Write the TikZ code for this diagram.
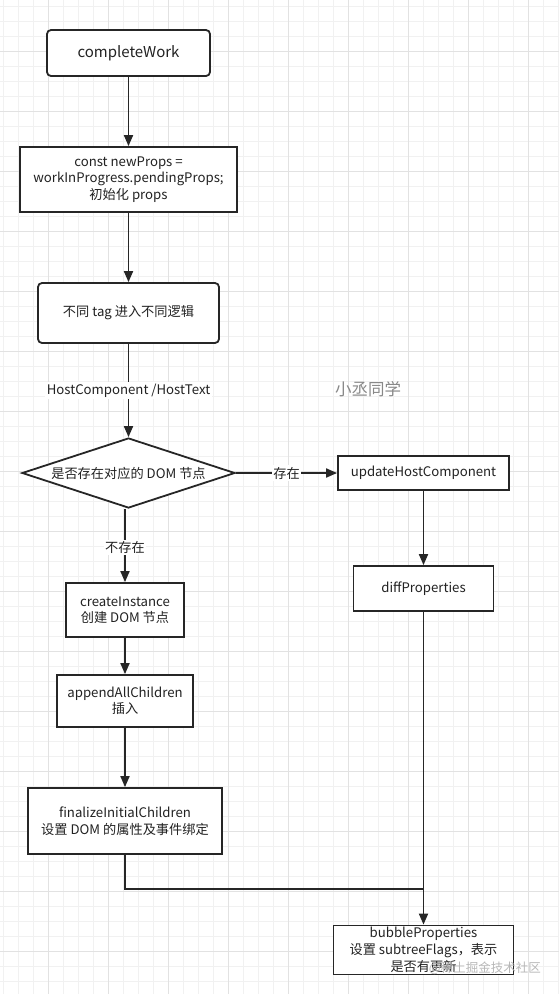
\documentclass[tikz,border=0pt]{standalone}
\usepackage{fontspec}
\setmainfont{Noto Sans CJK SC}
\usetikzlibrary{arrows.meta,shapes.geometric}
\definecolor{ink}{HTML}{262626}
\definecolor{txt}{HTML}{222222}
\definecolor{gridminor}{HTML}{F1F1F1}
\definecolor{gridmajor}{HTML}{E2E2E2}
\definecolor{wm}{HTML}{888888}
\tikzset{
  flowbox/.style={draw=ink, line width=1.8pt, fill=white, align=center, inner sep=0pt,
    text=txt, font=\fontsize{13.2}{16.5}\selectfont},
  roundbox/.style={flowbox, rounded corners=4pt},
  arr/.style={draw=ink, line width=1.8pt, -{Triangle[length=11pt,width=9pt]}},
  plainline/.style={draw=ink, line width=1.8pt},
  edgelabel/.style={fill=white, text=txt, inner sep=1.5pt, font=\fontsize{13.2}{15}\selectfont},
}
\begin{document}
\begin{tikzpicture}[x=1pt,y=-1pt]
\useasboundingbox (0,0) rectangle (559,994);
\fill[white] (0,0) rectangle (559,994);
% grid
\foreach \gx in {3.3,18.3,...,559} {\draw[gridminor, line width=0.8pt] (\gx,0) -- (\gx,994);}
\foreach \gy in {6.7,21.7,...,994} {\draw[gridminor, line width=0.8pt] (0,\gy) -- (559,\gy);}
\foreach \gx in {48.3,108.3,...,559} {\draw[gridmajor, line width=0.9pt] (\gx,0) -- (\gx,994);}
\foreach \gy in {51.7,111.7,...,994} {\draw[gridmajor, line width=0.9pt] (0,\gy) -- (559,\gy);}

% nodes
\node[roundbox, minimum width=163pt, minimum height=46pt, font=\fontsize{15}{18}\selectfont] (cw) at (128.5,53) {completeWork};
\node[flowbox, minimum width=217pt, minimum height=65pt] (np) at (128.5,179.5) {const newProps =\\workInProgress.pendingProps;\\初始化 props};
\node[roundbox, minimum width=181pt, minimum height=60pt] (tag) at (128.5,313) {不同 tag 进入不同逻辑};
\node[flowbox, diamond, aspect=3, minimum width=213pt, minimum height=70pt] (dia) at (128.5,473) {是否存在对应的 DOM 节点};
\node[flowbox, minimum width=171pt, minimum height=34pt] (uhc) at (423.5,473) {updateHostComponent};
\node[flowbox, minimum width=140pt, minimum height=45pt] (dp) at (423.5,588.5) {diffProperties};
\node[flowbox, minimum width=118pt, minimum height=54pt] (ci) at (125,610) {createInstance\\创建 DOM 节点};
\node[flowbox, minimum width=136pt, minimum height=52pt] (aac) at (125,701) {appendAllChildren\\插入};
\node[flowbox, minimum width=194pt, minimum height=66pt] (fic) at (125,821) {finalizeInitialChildren\\设置 DOM 的属性及事件绑定};
\node[flowbox, minimum width=180pt, minimum height=49pt, font=\fontsize{13.2}{17}\selectfont] (bp) at (423.5,950) {bubbleProperties\\设置 subtreeFlags，表示\\是否有更新};

\node[text=wm, font=\fontsize{16.5}{18}\selectfont, inner sep=0pt] (author) at (368,389) {小丞同学};

% connectors
\draw[arr] (cw.south) -- (np.north);
\draw[arr] (np.south) -- (tag.north);
\draw[arr] (tag.south) -- (dia.north) node[edgelabel, pos=0.5] (l1) {HostComponent /HostText};
\draw[arr] (dia.east) -- (uhc.west) node[edgelabel, pos=0.5] (l2) {存在};
\draw[arr] (ci.north |- dia.south) -- (ci.north) node[edgelabel, pos=0.53] (l3) {不存在};
\draw[arr] (uhc.south) -- (dp.north);
\draw[arr] (ci.south) -- (aac.north);
\draw[arr] (aac.south) -- (fic.north);
\coordinate (join) at (bp.north |- 0,889);
\draw[plainline] (fic.south) |- (join);
\draw[arr] (dp.south) -- (bp.north);

% watermark
\node[text=black!28, font=\fontsize{12.5}{15}\selectfont, inner sep=0pt, anchor=east] (wmark) at (541,968) {@稀土掘金技术社区};
\end{tikzpicture}
\end{document}
